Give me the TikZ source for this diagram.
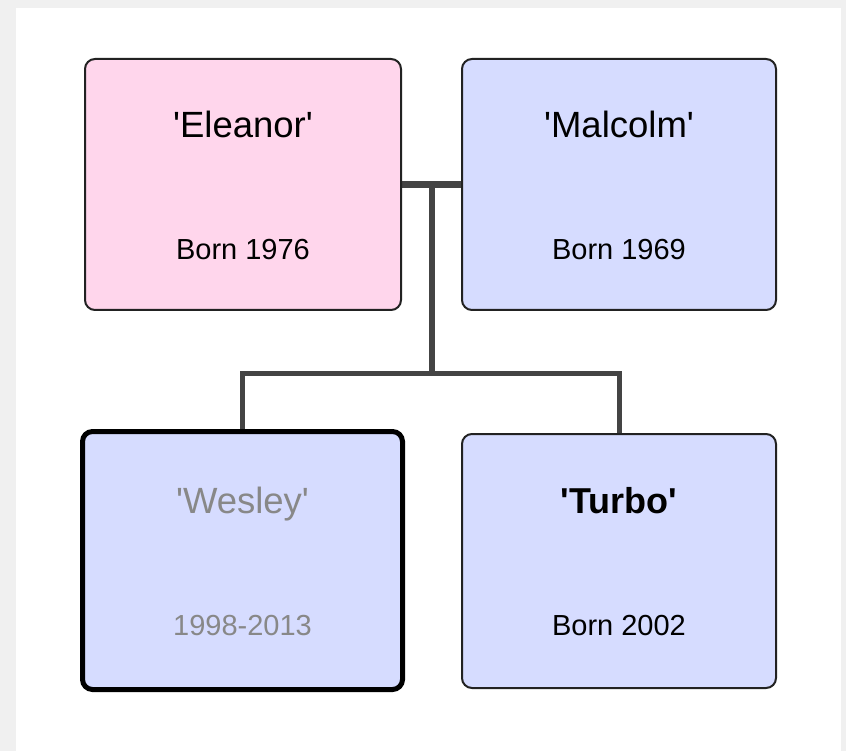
\documentclass[tikz,border=0pt]{standalone}
\usepackage{fontspec}
\newfontfamily\lsans{Liberation Sans}
\usetikzlibrary{backgrounds}
\definecolor{pagegray}{RGB}{240,240,240}
\definecolor{pinkfill}{RGB}{255,214,236}
\definecolor{bluefill}{RGB}{214,220,255}
\definecolor{linkgray}{RGB}{68,68,68}
\definecolor{deadtext}{RGB}{136,136,136}
\definecolor{boxline}{RGB}{34,34,34}
\begin{document}
\begin{tikzpicture}[x=1pt,y=-1pt,
  person/.style={draw=boxline, line width=2pt, rounded corners=10pt, inner sep=0pt, minimum width=314pt, minimum height=251pt},
  female/.style={person, fill=pinkfill},
  male/.style={person, fill=bluefill},
  deceased/.style={draw=black, line width=5pt},
  nametext/.style={anchor=base, inner sep=0pt, font=\lsans\fontsize{36.5}{40}\selectfont},
  datetext/.style={anchor=base, inner sep=0pt, font=\lsans\fontsize{29}{32}\selectfont},
  couple/.style={draw=linkgray, line width=7pt},
  link/.style={draw=linkgray, line width=5pt, line join=miter}
]
\useasboundingbox (0,0) rectangle (846,751);

% boxes
\node[female, minimum width=316pt] (el) at (243,184.5) {};
\node[male] (ma) at (619,184.5) {};
\node[male, deceased, minimum width=320pt, minimum height=258pt] (we) at (242.5,560.5) {};
\node[male, minimum height=254pt] (tu) at (619,561) {};

% texts
\node[nametext] (elname) at (243,138) {'Eleanor'};
\node[datetext] (eldate) at (243,260) {Born 1976};
\node[nametext] (maname) at (619,138) {'Malcolm'};
\node[datetext] (madate) at (619,260) {Born 1969};
\node[nametext, text=deadtext] (wename) at (242.5,513) {'Wesley'};
\node[datetext, text=deadtext] (wedate) at (242.5,635) {1998-2013};
\node[nametext, font=\lsans\bfseries\fontsize{36}{40}\selectfont] (tuname) at (619,513) {'Turbo'};
\node[datetext] (tudate) at (619,635) {Born 2002};

\coordinate (fork) at (431.5,184.5);
\coordinate (bar) at (431.5,373);

\begin{pgfonlayer}{background}
  \fill[pagegray] (0,0) rectangle (846,751);
  \fill[white] (16,8) rectangle (841,751);
  \draw[couple] (el.east) -- (ma.west);
  \draw[link, line width=6pt] (fork) -- (bar);
  \draw[link] (we.north) |- (bar) -| (tu.north);
\end{pgfonlayer}
\end{tikzpicture}
\end{document}
